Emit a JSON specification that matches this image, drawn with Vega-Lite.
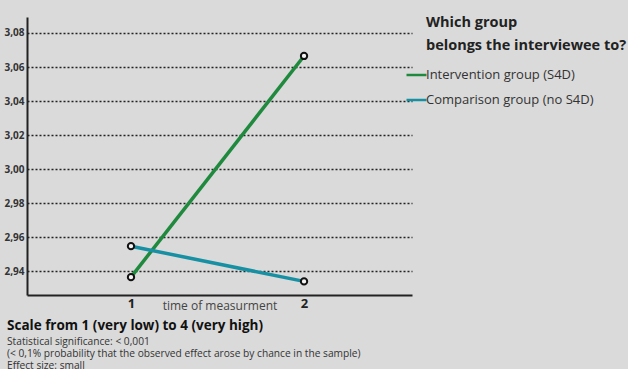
{
  "$schema": "https://vega.github.io/schema/vega-lite/v6.json",
  "width": 385,
  "height": 278,
  "autosize": "none",
  "padding": {"left": 27, "top": 17, "right": 216, "bottom": 74},
  "background": "#dadada",
  "config": {
    "view": {"stroke": null},
    "font": "Open Sans"
  },
  "title": {
    "text": "Scale from 1 (very low) to 4 (very high)",
    "subtitle": [
      "Statistical significance: < 0,001",
      "(< 0,1% probability that the observed effect arose by chance in the sample)",
      "Effect size: small"
    ],
    "orient": "bottom",
    "anchor": "start",
    "frame": "group",
    "dx": -20,
    "offset": 8,
    "font": "Open Sans",
    "fontSize": 13.5,
    "fontWeight": "bold",
    "color": "#111",
    "subtitleFont": "Open Sans",
    "subtitleFontSize": 10.2,
    "subtitleColor": "#333",
    "subtitleLineHeight": 12.3,
    "subtitlePadding": 4
  },
  "data": {
    "values": [
      {"time": 1, "group": "Intervention group (S4D)", "value": 2.9365},
      {"time": 2, "group": "Intervention group (S4D)", "value": 3.0665},
      {"time": 1, "group": "Comparison group (no S4D)", "value": 2.9547},
      {"time": 2, "group": "Comparison group (no S4D)", "value": 2.934}
    ]
  },
  "encoding": {
    "x": {
      "field": "time",
      "type": "quantitative",
      "scale": {"domain": [0.399, 2.624], "nice": false, "zero": false},
      "axis": {
        "values": [1, 2],
        "title": "time of measurment",
        "titleFont": "Open Sans",
        "titleFontSize": 12,
        "titleFontWeight": "normal",
        "titleColor": "#444",
        "titleY": 14,
        "titleBaseline": "alphabetic",
        "labelFont": "Open Sans",
        "labelFontSize": 13,
        "labelFontWeight": "bold",
        "labelColor": "#222",
        "labelPadding": 2,
        "ticks": false,
        "grid": false,
        "domainColor": "#222",
        "domainWidth": 2
      }
    },
    "y": {
      "field": "value",
      "type": "quantitative",
      "scale": {"domain": [2.926, 3.0894], "nice": false, "zero": false},
      "axis": {
        "values": [2.94, 2.96, 2.98, 3.0, 3.02, 3.04, 3.06, 3.08],
        "labelExpr": "replace(format(datum.value, '.2f'), '.', ',')",
        "title": null,
        "labelFont": "Open Sans",
        "labelFontSize": 10,
        "labelFontWeight": "bold",
        "labelColor": "#333",
        "labelPadding": 3,
        "ticks": false,
        "grid": true,
        "gridColor": "#222",
        "gridDash": [2, 2],
        "gridWidth": 1.5,
        "gridOpacity": 1,
        "domainColor": "#222",
        "domainWidth": 2
      }
    }
  },
  "layer": [
    {
      "mark": {"type": "line", "strokeWidth": 3.5},
      "encoding": {
        "color": {
          "field": "group",
          "type": "nominal",
          "scale": {
            "domain": ["Intervention group (S4D)", "Comparison group (no S4D)"],
            "range": ["#1f8a3e", "#1690a2"]
          },
          "legend": {
            "title": ["Which group", "belongs the interviewee to?"],
            "orient": "none",
            "legendX": 399,
            "legendY": -1,
            "titleFont": "Open Sans",
            "titleFontSize": 14.5,
            "titleFontWeight": "bold",
            "titleColor": "#222",
            "titleLineHeight": 23,
            "titlePadding": 10,
            "titleLimit": 400,
            "labelLimit": 400,
            "labelFont": "Open Sans",
            "labelFontSize": 13,
            "labelColor": "#333",
            "labelOffset": -2,
            "symbolType": "stroke",
            "symbolSize": 400,
            "symbolStrokeWidth": 2.5,
            "symbolOffset": -21,
            "rowPadding": 6
          }
        }
      }
    },
    {
      "mark": {"type": "point", "filled": true, "fill": "#f4f4f4", "stroke": "#111", "strokeWidth": 2, "size": 40, "opacity": 1},
      "encoding": {"detail": {"field": "group", "type": "nominal"}}
    }
  ]
}
